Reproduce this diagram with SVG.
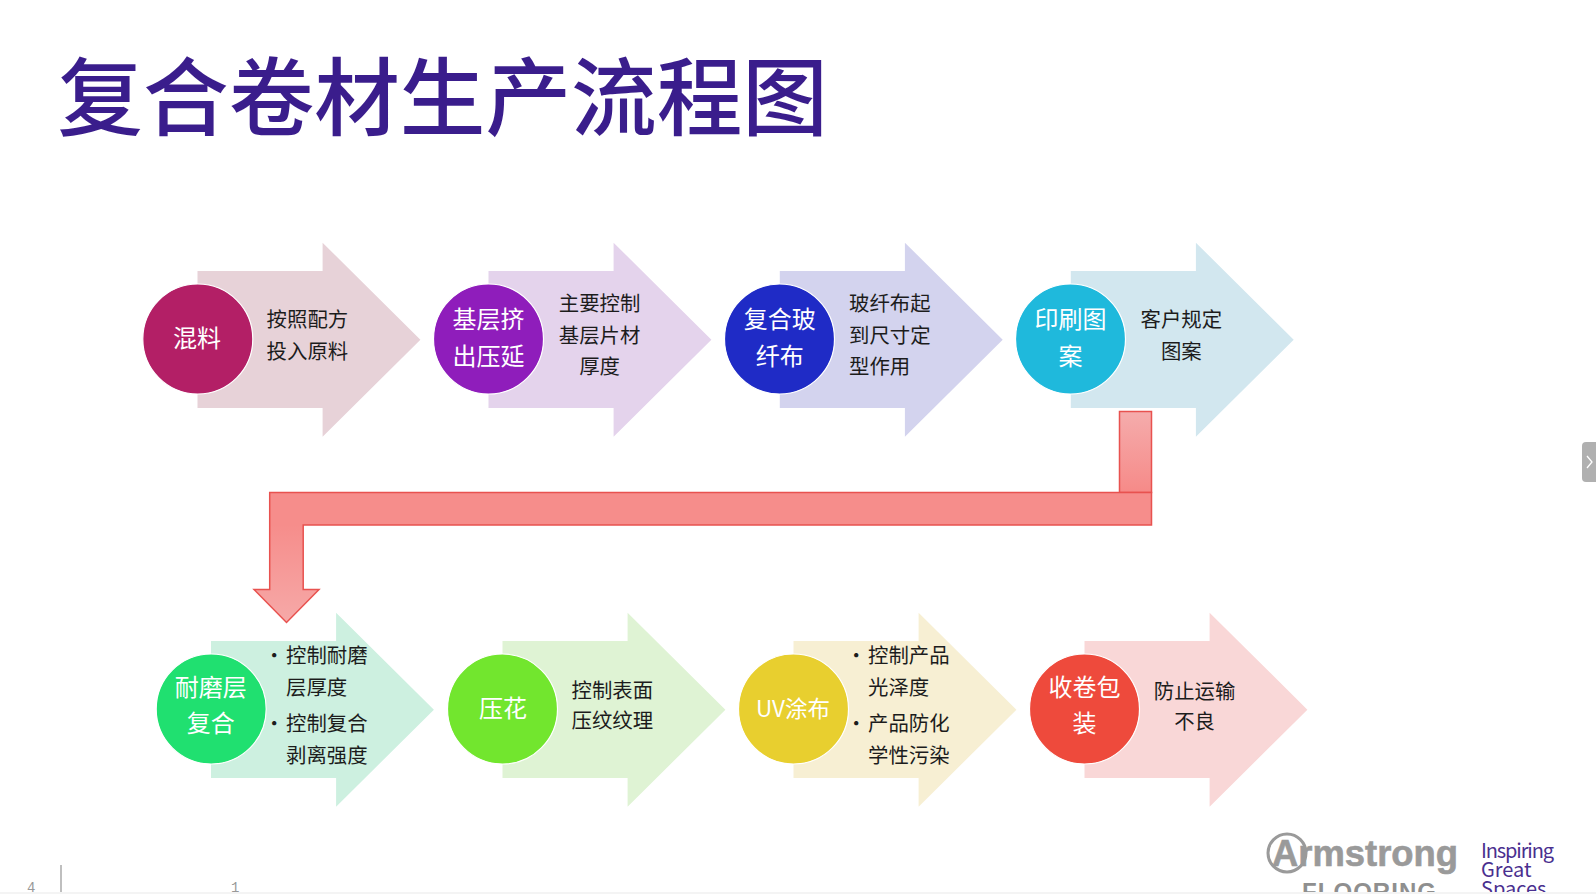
<svg xmlns="http://www.w3.org/2000/svg" width="1596" height="894" viewBox="0 0 1596 894">
<style>
text{font-family:"Microsoft YaHei","Noto Sans CJK SC","Noto Sans",sans-serif;dominant-baseline:central}
.t{font-size:20.4px;fill:#1c1c1c;text-anchor:middle}
.l{font-size:20.4px;fill:#1c1c1c;text-anchor:start}
.c{font-size:24px;fill:#fff;text-anchor:middle}
.ci{stroke:#fff;stroke-width:1.2}
.a{dominant-baseline:alphabetic}
</style>
<defs>
<path id="arrow" d="M197.5 271H322.6V242.7L420.4 339.7L322.6 436.7V408H197.5Z"/>
<linearGradient id="vg" x1="0" y1="0" x2="0" y2="1"><stop offset="0" stop-color="#f5acac"/><stop offset="1" stop-color="#f68a88"/></linearGradient>
<linearGradient id="hg" gradientUnits="userSpaceOnUse" x1="0" y1="525" x2="0" y2="623"><stop offset="0" stop-color="#f68d8b"/><stop offset="1" stop-color="#f6a9a8"/></linearGradient>
</defs>
<rect width="1596" height="894" fill="#fff"/>
<text id="title" x="57.5" y="92" font-size="85.6" fill="#3a1d8c" style="font-weight:500">复合卷材生产流程图</text>

<g id="node-1"><use href="#arrow" fill="#e7d2d8"/><circle class="ci" cx="197.8" cy="339" r="55" fill="#b31f66"/><text class="c" x="197" y="336">混料</text><text class="t" x="307.4" y="318">按照配方</text><text class="t" x="307.4" y="349.5">投入原料</text></g>
<g id="node-2"><use href="#arrow" x="291" fill="#e4d3ec"/><circle class="ci" cx="488.5" cy="339" r="55" fill="#8f1dbb"/><text class="c" x="488.6" y="317.6">基层挤</text><text class="c" x="488.6" y="354">出压延</text><text class="t" x="599.6" y="302">主要控制</text><text class="t" x="599.6" y="333.5">基层片材</text><text class="t" x="599.6" y="365">厚度</text></g>
<g id="node-3"><use href="#arrow" x="582.3" fill="#d3d3ee"/><circle class="ci" cx="779.5" cy="339" r="55" fill="#1f2bc6"/><text class="c" x="779.7" y="317.6">复合玻</text><text class="c" x="779.7" y="354">纤布</text><text class="l" x="849" y="302">玻纤布起</text><text class="l" x="849" y="333.5">到尺寸定</text><text class="l" x="849" y="365">型作用</text></g>
<g id="node-4"><use href="#arrow" x="873.3" fill="#d2e7ef"/><circle class="ci" cx="1070.5" cy="339" r="55" fill="#1fb9dc"/><text class="c" x="1070.5" y="317.6">印刷图</text><text class="c" x="1070.5" y="354">案</text><text class="t" x="1181.3" y="318">客户规定</text><text class="t" x="1181.3" y="349.5">图案</text></g>

<g id="node-5"><use href="#arrow" x="13.5" y="370" fill="#cdf0e0"/><circle class="ci" cx="211.2" cy="709" r="55" fill="#20e070"/><text class="c" x="210.7" y="685">耐磨层</text><text class="c" x="210.7" y="721.8">复合</text><text class="l" x="264" y="653.5">•</text><text class="l" x="286" y="654">控制耐磨</text><text class="l" x="286" y="685.5">层厚度</text><text class="l" x="264" y="721.5">•</text><text class="l" x="286" y="721.5">控制复合</text><text class="l" x="286" y="754">剥离强度</text></g>
<g id="node-6"><use href="#arrow" x="305" y="370" fill="#dff3d4"/><circle class="ci" cx="502.5" cy="709" r="55" fill="#72e62e"/><text class="c" x="502.9" y="706.5">压花</text><text class="t" x="612.3" y="688.5">控制表面</text><text class="t" x="612.3" y="719.2">压纹纹理</text></g>
<g id="node-7"><use href="#arrow" x="596" y="370" fill="#f7efd3"/><circle class="ci" cx="793.5" cy="709" r="55" fill="#e8cf2f"/><text class="c" x="793" y="706.5" style="font-size:22.5px">UV涂布</text><text class="l" x="846" y="653.5">•</text><text class="l" x="868" y="654">控制产品</text><text class="l" x="868" y="685.5">光泽度</text><text class="l" x="846" y="721.5">•</text><text class="l" x="868" y="721.5">产品防化</text><text class="l" x="868" y="754">学性污染</text></g>
<g id="node-8"><use href="#arrow" x="887" y="370" fill="#f9d7d7"/><circle class="ci" cx="1084.5" cy="709" r="55" fill="#ee4a3c"/><text class="c" x="1084.5" y="685">收卷包</text><text class="c" x="1084.5" y="721.8">装</text><text class="t" x="1194.6" y="689.5">防止运输</text><text class="t" x="1194.6" y="720.2">不良</text></g>

<g id="connectors" stroke="#e8524f" stroke-width="1.5" stroke-linejoin="miter">
<rect x="1119.5" y="411.5" width="32" height="81" fill="url(#vg)"/>
<path d="M269.7 492.5H1151.5V525H303.2V589.5H319L286.5 622.5L254 589.5H269.7Z" fill="url(#hg)"/>
</g>

<g id="side-tab"><path d="M1596 442H1586a4 4 0 0 0-4 4V478a4 4 0 0 0 4 4H1596Z" fill="#b0b0b0"/><path d="M1587 456L1592 462L1587 468" fill="none" stroke="#fff" stroke-width="1.3"/></g>

<g id="logo">
<circle cx="1287" cy="853" r="19" fill="none" stroke="#9a9a9a" stroke-width="3"/>
<text class="a" x="1272" y="866" font-size="36" font-weight="700" fill="#9a9a9a" stroke="#9a9a9a" stroke-width="0.6" textLength="186" lengthAdjust="spacingAndGlyphs" style="font-family:'Liberation Sans',Arial,sans-serif">Armstrong</text>
<text class="a" x="1302" y="900" font-size="24" font-weight="700" fill="#8f8f8f" textLength="134" style="font-family:'Liberation Sans',Arial,sans-serif">FLOORING</text>
<g fill="#4a2f8f" font-size="20" style="font-family:Lato,'Open Sans',sans-serif">
<text class="a" x="1481" y="858" textLength="73">Inspiring</text>
<text class="a" x="1481" y="877">Great</text>
<text class="a" x="1481" y="896">Spaces</text>
</g>
</g>

<g id="footer">
<line x1="61" y1="865" x2="61" y2="892" stroke="#aaa" stroke-width="1.5"/>
<text class="a" x="27" y="892" font-size="14" fill="#999" style="font-family:'Liberation Mono',monospace">4</text>
<text class="a" x="231" y="892" font-size="14" fill="#999" style="font-family:'Liberation Mono',monospace">1</text>
<rect y="892" width="1596" height="2" fill="#f4f4f4"/>
</g>
</svg>
